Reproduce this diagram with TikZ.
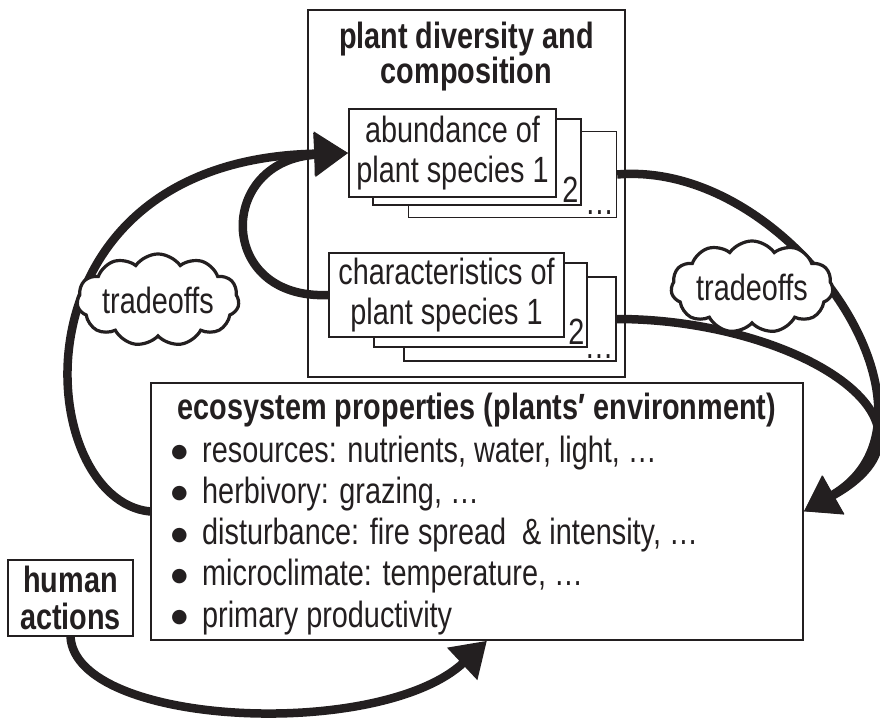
\documentclass[tikz,border=0pt]{standalone}
\usepackage{fontspec}
\setmainfont[FakeStretch=0.79]{Liberation Sans}
\newfontfamily\bulletfont{DejaVu Sans}
\usepackage{tikz}
\usetikzlibrary{arrows.meta,positioning,shapes.symbols}
\definecolor{ecoInk}{HTML}{231F20}
\tikzset{
  eco diagram/.style={font=\fontsize{36.5}{40}\selectfont, color=ecoInk,
    line join=miter},
  eco box/.style={draw=ecoInk, fill=white, line width=1.4pt, inner sep=0pt},
  eco sheet/.style={eco box, align=center, minimum width=208pt,
    minimum height=86pt},
  eco title/.style={font=\fontsize{36.5}{33}\selectfont\bfseries,
    align=center, inner sep=0pt},
  eco item/.style={anchor=base west, inner sep=0pt},
  eco corner/.style={anchor=south east, inner sep=3pt},
  eco cloud/.style={cloud, cloud puffs=11, cloud puff arc=110, aspect=2.2,
    draw=ecoInk, fill=white, line width=3.2pt, minimum width=142pt,
    minimum height=64pt, inner sep=0pt},
  eco arrow/.style={-{Triangle[length=34pt,width=42pt]}, draw=ecoInk,
    line width=8.5pt}
}
\newcommand{\ecobullet}{\makebox[30pt][l]{\hspace{-1pt}\raisebox{4.5pt}{\bulletfont\fontsize{19}{19}\selectfont ●}}}

\begin{document}
\begin{tikzpicture}[eco diagram,x=1pt,y=1pt]
\useasboundingbox (0,0) rectangle (880,721);
% plant diversity and composition
\node[eco box, minimum width=317pt, minimum height=367pt] (plants) at (466.5,527.5) {};
\node[eco title] (plantsTitle) at (466.5,664.5) {plant diversity and\\composition};
\node[eco sheet] (abund3) at (512.5,546.5) {};
\node[eco sheet] (abund2) at (477,559) {};
\node[eco sheet, minimum width=207pt, minimum height=88pt] (abund) at (452.5,568) {abundance of\\plant species 1};
\node[eco corner] (abundTwo) at (abund2.south east) {2};
\node[eco corner] (abundDots) at (abund3.south east) {…};
\node[eco sheet, minimum width=212pt, minimum height=84pt] (chars3) at (510,402) {};
\node[eco sheet, minimum width=213pt, minimum height=84pt] (chars2) at (480.5,416) {};
\node[eco sheet, minimum width=235pt, minimum height=84pt] (chars) at (446.5,426) {characteristics of\\plant species 1};
\node[eco corner] (charsTwo) at (chars2.south east) {2};
\node[eco corner] (charsDots) at (chars3.south east) {…};
% ecosystem properties
\node[eco box, minimum width=652pt, minimum height=257pt] (eco) at (477,209.5) {};
\node[eco title] (ecoTitle) at (477,311) {ecosystem properties (plants′ environment)};
\foreach \txt [count=\i] in {{resources: nutrients, water, light, …},
    {herbivory: grazing, …}, {disturbance: fire spread~ \& intensity, …},
    {microclimate: temperature, …}, {primary productivity}}
  \node[eco item] (item\i) at (172,{259-41.25*(\i-1)}) {\ecobullet\txt};
\node[eco box, eco title, minimum width=125pt, minimum height=76pt,
  font=\fontsize{36.5}{37}\selectfont\bfseries] (human) at (70.5,123) {human\\actions};
% feedbacks
\draw[eco arrow] (eco.west) .. controls +(-118,11) and +(-345,-7) .. (abund.west);
\draw[eco arrow] (chars.west) .. controls +(-112,-5) and +(-132,-7) .. (abund.west);
\draw[eco arrow] (abund3.east) .. controls +(175,15) and +(160,92) .. (eco.east);
\draw[eco arrow] (chars3.east) .. controls +(180,0) and +(160,88) .. (eco.east);
\draw[eco arrow] (human.south) .. controls +(5,-90) and +(-107,-100) .. ([xshift=10pt]eco.south);
\node[eco cloud] (tradeLeft) at (158,421) {tradeoffs};
\node[eco cloud] (tradeRight) at (752,434) {tradeoffs};
\end{tikzpicture}
\end{document}
